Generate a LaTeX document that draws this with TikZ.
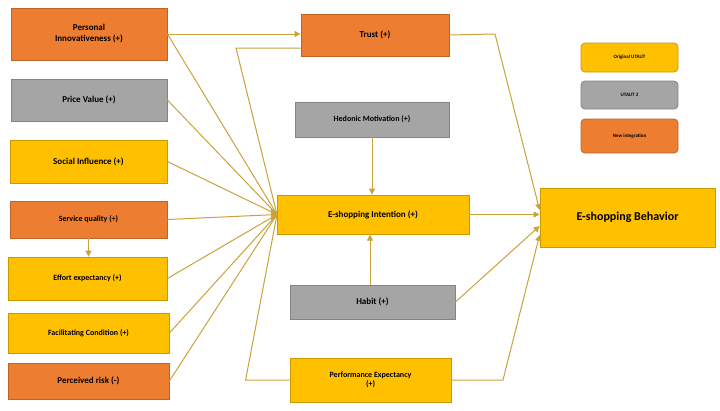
\documentclass[tikz,border=0pt]{standalone}
\usepackage{fontspec}
\setmainfont{Carlito}
\usetikzlibrary{arrows.meta}
\definecolor{neworange}{HTML}{ED7D31}
\definecolor{utgray}{HTML}{A5A5A5}
\definecolor{utyellow}{HTML}{FFC000}
\definecolor{linkgold}{HTML}{C9A23A}
\tikzset{
  box/.style={draw=#1!80!black, fill=#1, line width=0.8pt, inner sep=2pt, align=center, font=\bfseries\small},
  link/.style={draw=linkgold, line width=1pt},
  arr/.style={link, -{Triangle[length=6pt,width=6pt]}}
}
\begin{document}
\begin{tikzpicture}[x=1pt, y=-1pt]
  \useasboundingbox (0,0) rectangle (720,410);

  % left column
  \node[box=neworange, minimum width=156pt, minimum height=52pt] (pi) at (89,34) {Personal\\Innovativeness (+)};
  \node[box=utgray, minimum width=156pt, minimum height=42pt] (pv) at (89,100) {Price Value (+)};
  \node[box=utyellow, minimum width=157pt, minimum height=43pt] (si) at (88.5,161.5) {Social Influence (+)};
  \node[box=neworange, minimum width=157pt, minimum height=37pt, font=\bfseries\footnotesize] (sq) at (88.5,219.5) {Service quality (+)};
  \node[box=utyellow, minimum width=159pt, minimum height=43pt, font=\bfseries\footnotesize] (ee) at (87.5,278.5) {Effort expectancy (+)};
  \node[box=utyellow, minimum width=161pt, minimum height=40pt, font=\bfseries\footnotesize] (fc) at (88.5,333) {Facilitating Condition (+)};
  \node[box=neworange, minimum width=161pt, minimum height=36pt] (pr) at (88.5,381) {Perceived risk (-)};

  % middle column
  \node[box=neworange, minimum width=148pt, minimum height=42pt] (tr) at (375,35) {Trust (+)};
  \node[box=utgray, minimum width=154pt, minimum height=35pt, font=\bfseries\footnotesize] (hm) at (372,119.5) {Hedonic Motivation (+)};
  \node[box=utyellow, minimum width=192pt, minimum height=39pt] (int) at (373,214.5) {E-shopping Intention (+)};
  \node[box=utgray, minimum width=165pt, minimum height=34pt] (hb) at (372.5,302) {Habit (+)};
  \node[box=utyellow, minimum width=161pt, minimum height=44pt, font=\bfseries\footnotesize] (pe) at (370.5,380) {Performance Expectancy\\(+)};

  % outcome
  \node[box=utyellow, minimum width=175pt, minimum height=59pt, font=\bfseries\large] (beh) at (627.5,217.5) {E-shopping Behavior};

  % legend
  \node[box=utyellow, rounded corners=4pt, minimum width=97pt, minimum height=29pt, font=\bfseries\tiny] (lg1) at (629.5,57.5) {Original UTAUT};
  \node[box=utgray, rounded corners=4pt, minimum width=97pt, minimum height=28pt, font=\bfseries\tiny] (lg2) at (629.5,95) {UTAUT 2};
  \node[box=neworange, rounded corners=4pt, minimum width=97pt, minimum height=34pt, font=\bfseries\tiny] (lg3) at (629.5,136) {New integration};

  % links into the intention
  \coordinate (hub) at (277,214.5);
  \foreach \src in {pi, pv, si, ee, fc, pr}
    \draw[link] (\src.east) -- (hub);
  \draw[arr] (sq.east) -- (hub);
  \fill[linkgold] (hub) ++(-6,-7) -- ++(6,7) -- ++(-6,7) -- cycle;
  \draw[link] (pe.west) -- ++(-44,0) -- (hub);
  \draw[link] (hub) -- (236,48) -- (tr.west |- 0,48);
  \draw[arr] (pi.east |- 0,34) -- (tr.west |- 0,34);
  \draw[arr] (sq.south) -- (ee.north -| sq.south);
  \draw[arr] (hm.south) -- (int.north -| hm.south);
  \draw[arr] (hb.north -| int.north) ++(-3,0) -- ++(0,-50);

  % links into the behavior
  \draw[arr] (tr.east) -- (495,34) -- (beh.west |- 0,210);
  \draw[arr] (int.east) -- (beh.west |- int.east);
  \draw[arr] (hb.east) -- (beh.west |- 0,226);
  \draw[arr] (pe.east) -- (503,380) -- (beh.west |- 0,235);
\end{tikzpicture}
\end{document}
